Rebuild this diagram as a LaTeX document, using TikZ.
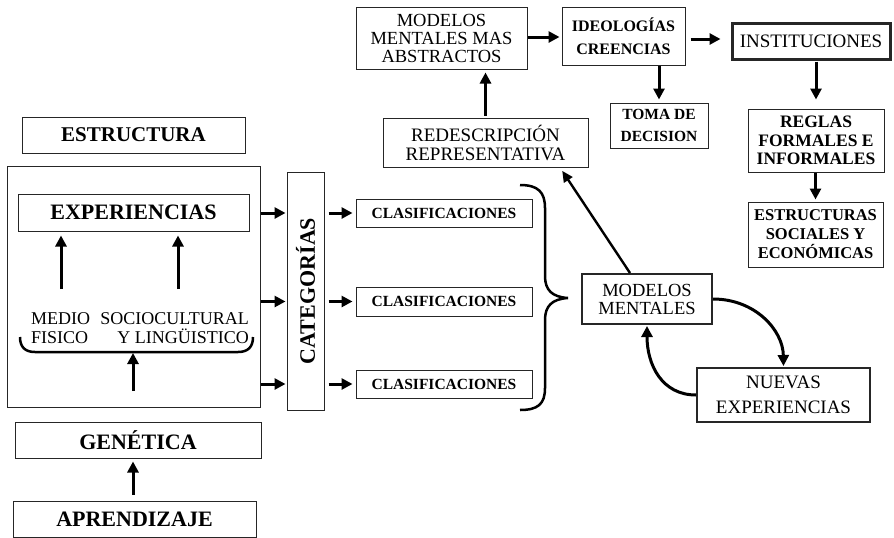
\documentclass[tikz,border=0pt]{standalone}
\usepackage{fontspec}
\setmainfont{Liberation Serif}
\usetikzlibrary{arrows.meta,calc}
\newcommand\fsz[2]{\fontsize{#1}{#2}\selectfont}
\begin{document}
\begin{tikzpicture}[x=1pt,y=-1pt,
  box/.style={draw=black!85,line width=1pt,rectangle,inner sep=0pt,align=center},
  arr/.style={line width=3pt,-{Triangle[length=11pt,width=11pt]}},
  thinarr/.style={line width=2.4pt,-{Triangle[length=11pt,width=10pt]}},
  brc/.style={line width=2.5pt}]
\useasboundingbox (0,0) rectangle (894,538);
\fill[white] (0,0) rectangle (894,538);

% left column
\node[box,minimum width=223pt,minimum height=36pt,font=\fsz{21}{21}\bfseries] (estr) at (133.5,135) {ESTRUCTURA};
\node[box,minimum width=253pt,minimum height=241pt] (big) at (133.5,286.5) {};
\node[box,minimum width=231pt,minimum height=37pt,font=\fsz{22}{22}\bfseries] (exp) at (133.5,212.5) {EXPERIENCIAS};
\node[inner sep=0pt,anchor=north west,align=left,font=\fsz{18}{19}] (medio) at (31,312) {MEDIO\\FISICO};
\node[inner sep=0pt,anchor=north east,align=right,font=\fsz{18}{19}] (socio) at (249,312) {SOCIOCULTURAL\\Y LINGÜISTICO};
\node[box,minimum width=246pt,minimum height=36pt,font=\fsz{22}{22}\bfseries] (gen) at (138,440) {GENÉTICA};
\node[box,minimum width=243pt,minimum height=36pt,font=\fsz{22}{22}\bfseries] (apr) at (134.5,519) {APRENDIZAJE};

\coordinate (m1) at (61,289);
\coordinate (m2) at (178,289);
\coordinate (g1) at (133,391);
\coordinate (bm) at (133,352);
\draw[arr,shorten >=4pt] (m1) -- (m1 |- exp.south);
\draw[arr,shorten >=4pt] (m2) -- (m2 |- exp.south);
\draw[brc] (20,337) .. controls (20,347) and (25,352) .. (35,352) -- (238,352) .. controls (248,352) and (253,347) .. (253,337);
\draw[arr,shorten >=1pt] (g1) -- (bm);
\draw[arr,shorten <=6pt,shorten >=3pt] (apr.north -| bm) -- (gen.south -| bm);

% categories
\node[box,minimum width=37pt,minimum height=238pt] (cat) at (305.5,291) {};
\node[rotate=90,font=\fsz{22}{22}\bfseries,inner sep=0pt] (catt) at (cat.center) {CATEGORÍAS};
\node[box,minimum width=176pt,minimum height=28pt,font=\fsz{15.5}{15.5}\bfseries] (c1) at (444,213) {CLASIFICACIONES};
\node[box,minimum width=176pt,minimum height=29pt,font=\fsz{15.5}{15.5}\bfseries] (c2) at (444,301.5) {CLASIFICACIONES};
\node[box,minimum width=176pt,minimum height=28pt,font=\fsz{15.5}{15.5}\bfseries] (c3) at (444,384) {CLASIFICACIONES};
\foreach \c in {c1,c2,c3}{
  \draw[arr,shorten >=1pt] (big.east |- \c) -- (cat.west |- \c);
  \draw[arr,shorten <=4pt,shorten >=3pt] (cat.east |- \c) -- (\c.west);
}
% big brace
\draw[brc] (520,185) .. controls (538,185) and (545,192) .. (545,208) -- (545,276)
  .. controls (545,290) and (552,297) .. (568,298)
  .. controls (552,299) and (545,306) .. (545,320) -- (545,388)
  .. controls (545,404) and (538,410) .. (520,410);

% mental models
\node[box,line width=2pt,minimum width=130pt,minimum height=50pt,font=\fsz{18.5}{18}] (mm) at (647,299) {MODELOS\\MENTALES};
\node[box,line width=2pt,minimum width=173pt,minimum height=54pt,font=\fsz{19}{25}] (ne) at (783.5,395) {NUEVAS\\EXPERIENCIAS};
\draw[arr,shorten >=1pt] (mm.east) .. controls (755,299) and (783,330) .. (ne.north);
\draw[arr,shorten >=1pt] (ne.west) .. controls (662,395) and (647,365) .. (mm.south);

\node[box,minimum width=205pt,minimum height=49pt,font=\fsz{19}{19}] (rr) at (485.5,142.5) {REDESCRIPCIÓN\\REPRESENTATIVA};
\draw[thinarr,shorten >=4pt] ([xshift=-17pt]mm.north) -- ([xshift=74.5pt]rr.south);

\node[box,minimum width=171pt,minimum height=62pt,font=\fsz{18.5}{18}] (mmma) at (441.5,38) {MODELOS\\MENTALES MAS\\ABSTRACTOS};
\draw[arr,shorten <=2pt,shorten >=3pt] (rr.north) -- (rr.north |- mmma.south);

\node[box,minimum width=123pt,minimum height=58pt,font=\fsz{16}{23}\bfseries] (ic) at (623.5,36) {IDEOLOGÍAS\\CREENCIAS};
\draw[arr,shorten >=2pt] (mmma.east |- 0,37) -- (ic.west |- 0,37);

\node[box,line width=3pt,minimum width=158pt,minimum height=36pt,font=\fsz{19}{19}] (inst) at (811,41) {INSTITUCIONES};
\draw[arr,shorten <=5pt,shorten >=10pt] (ic.east |- 0,39) -- (inst.west |- 0,39);

\node[box,minimum width=98pt,minimum height=45pt,font=\fsz{15.5}{22}\bfseries] (toma) at (659,125.5) {TOMA DE\\DECISION};
\draw[arr,shorten >=3pt] (toma.north |- ic.south) -- (toma.north);

\node[box,minimum width=136pt,minimum height=63pt,font=\fsz{17.5}{18.5}\bfseries] (reg) at (816,140.5) {REGLAS\\FORMALES E\\INFORMALES};
\draw[arr,shorten <=1pt,shorten >=9pt] (inst.south -| reg.north) -- (reg.north);

\node[box,minimum width=135pt,minimum height=65pt,font=\fsz{16.5}{19}\bfseries] (est) at (815.5,234.5) {ESTRUCTURAS\\SOCIALES Y\\ECONÓMICAS};
\draw[arr,shorten >=2pt] (reg.south -| est.north) -- (est.north);
\end{tikzpicture}
\end{document}
